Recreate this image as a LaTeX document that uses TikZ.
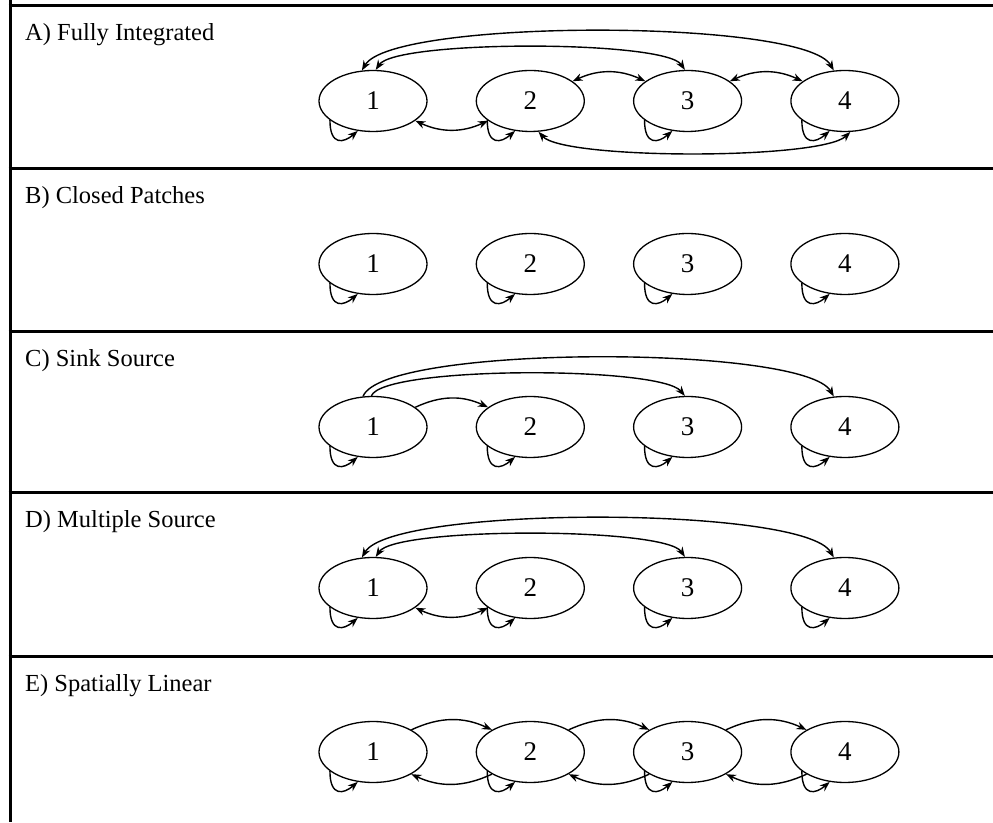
\documentclass[tikz,border=0pt]{standalone}
\usepackage{fontspec}
\setmainfont{Liberation Serif}
\usetikzlibrary{arrows.meta, positioning, shapes.geometric}

\begin{document}
\begin{tikzpicture}[
  x=1pt, y=1pt,
  node distance=48pt,
  patch/.style={ellipse, draw=black, line width=1.3pt, minimum width=108pt,
               minimum height=61pt, inner sep=0pt, font=\fontsize{27}{30}\selectfont},
  heading/.style={anchor=base west, inner sep=0pt, font=\fontsize{24.5}{28}\selectfont},
  arrow/.style={-{Stealth[length=10pt,width=7.5pt]}, line width=1.4pt},
  twoway/.style={{Stealth[length=10pt,width=7.5pt]}-{Stealth[length=10pt,width=7.5pt]}, line width=1.4pt},
  rule/.style={line width=3pt}
]
\useasboundingbox (0,0) rectangle (993,822);

% frame and panel rules
\draw[rule] (10,822) -- (10,0);
\foreach \y in {816,653,490,329,165}
  \draw[rule] (8.5,\y) -- (993,\y);

% A) Fully Integrated
\node[heading] (tA) at (25,781) {A) Fully Integrated};
\node[patch] (a1) at (373,721) {1};
\node[patch, right=of a1] (a2) {2};
\node[patch, right=of a2] (a3) {3};
\node[patch, right=of a3] (a4) {4};
\draw[twoway] (a1.110) .. controls +(30,52) and +(-30,52) .. (a4.110);
\draw[twoway] (a1.85) .. controls +(20,30) and +(-20,30) .. (a3.95);
\draw[twoway] (a2.25) to[bend left=25] (a3.155);
\draw[twoway] (a3.25) to[bend left=25] (a4.155);
\draw[twoway] (a1.335) to[bend right=25] (a2.205);
\draw[twoway] (a2.285) .. controls +(25,-28) and +(-30,-28) .. (a4.280);

% B) Closed Patches
\node[heading] (tB) at (25,618) {B) Closed Patches};
\node[patch] (b1) at (373,558) {1};
\node[patch, right=of b1] (b2) {2};
\node[patch, right=of b2] (b3) {3};
\node[patch, right=of b3] (b4) {4};

% C) Sink Source
\node[heading] (tC) at (25,455) {C) Sink Source};
\node[patch] (c1) at (373,395) {1};
\node[patch, right=of c1] (c2) {2};
\node[patch, right=of c2] (c3) {3};
\node[patch, right=of c3] (c4) {4};
\draw[arrow] (c1.108) .. controls +(20,52) and +(-30,52) .. (c4.110);
\draw[arrow] (c1.93) .. controls +(12,30) and +(-25,30) .. (c3.95);
\draw[arrow] (c1.25) to[bend left=25] (c2.155);

% D) Multiple Source
\node[heading] (tD) at (25,294) {D) Multiple Source};
\node[patch] (d1) at (373,234) {1};
\node[patch, right=of d1] (d2) {2};
\node[patch, right=of d2] (d3) {3};
\node[patch, right=of d3] (d4) {4};
\draw[twoway] (d1.110) .. controls +(30,52) and +(-30,52) .. (d4.110);
\draw[twoway] (d1.85) .. controls +(20,30) and +(-20,30) .. (d3.95);
\draw[twoway] (d1.335) to[bend right=25] (d2.205);

% E) Spatially Linear
\node[heading] (tE) at (25,130) {E) Spatially Linear};
\node[patch] (e1) at (373,70) {1};
\node[patch, right=of e1] (e2) {2};
\node[patch, right=of e2] (e3) {3};
\node[patch, right=of e3] (e4) {4};
\foreach \s/\t in {e1/e2, e2/e3, e3/e4} {
  \draw[arrow] (\s.30) to[bend left=25] (\t.150);
  \draw[arrow] (\t.210) to[bend left=25] (\s.330);
}

% every patch keeps some of its own
\foreach \n in {a1,a2,a3,a4,b1,b2,b3,b4,c1,c2,c3,c4,d1,d2,d3,d4,e1,e2,e3,e4}
  \draw[arrow] (\n.204) .. controls +(0,-26) and +(-14,-12) .. (\n.243);

\end{tikzpicture}
\end{document}
